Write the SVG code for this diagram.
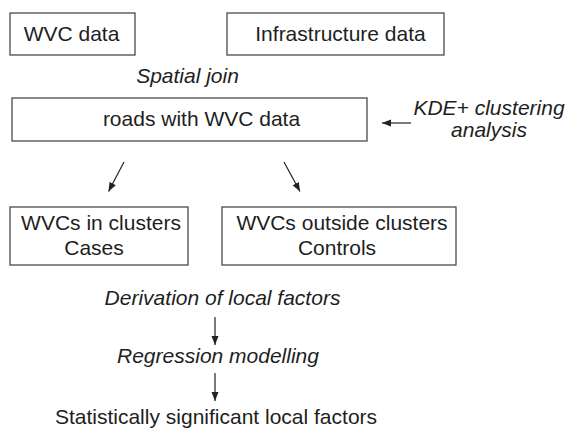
<svg xmlns="http://www.w3.org/2000/svg" width="567" height="430" viewBox="0 0 567 430">
<style>
.box{fill:#fff;stroke:#4a4a4a;stroke-width:1.3}
.t{font-family:"Liberation Sans",Arial,sans-serif;font-size:21px;fill:#1e1e1e;text-anchor:middle}
.i{font-style:italic}
.c{stroke:#222;stroke-width:1.2;fill:none;marker-end:url(#ah)}
</style>
<defs>
<marker id="ah" markerUnits="userSpaceOnUse" markerWidth="10" markerHeight="8" refX="9" refY="3.5" orient="auto">
<path d="M0,0 L9,3.5 L0,7 z" fill="#222"/>
</marker>
</defs>
<rect width="567" height="430" fill="#fff"/>
<g id="wvc-data"><rect class="box" x="10" y="13" width="125" height="42"/><text class="t" x="71.5" y="41">WVC data</text></g>
<g id="infrastructure-data"><rect class="box" x="227" y="13" width="217" height="42"/><text class="t" x="340.5" y="41">Infrastructure data</text></g>
<g id="spatial-join"><text class="t i" x="187.5" y="83">Spatial join</text></g>
<g id="roads"><rect class="box" x="12" y="98" width="355" height="43"/><text class="t" x="201.5" y="126">roads with WVC data</text></g>
<g id="kde"><text class="t i" x="489" y="115">KDE+ clustering</text><text class="t i" x="489" y="137">analysis</text></g>
<g id="cases"><rect class="box" x="10" y="207" width="178" height="58"/><text class="t" x="101" y="230">WVCs in clusters</text><text class="t" x="94" y="255">Cases</text></g>
<g id="controls"><rect class="box" x="222" y="207" width="234" height="58"/><text class="t" x="342" y="230">WVCs outside clusters</text><text class="t" x="337" y="255">Controls</text></g>
<g id="derivation"><text class="t i" x="222.5" y="305">Derivation of local factors</text></g>
<g id="regression"><text class="t i" x="218" y="363">Regression modelling</text></g>
<g id="result"><text class="t" x="216" y="424">Statistically significant local factors</text></g>
<g id="connectors">
<line class="c" x1="411" y1="123" x2="382" y2="123"/>
<line class="c" x1="124" y1="162" x2="108.5" y2="191.5"/>
<line class="c" x1="284" y1="162" x2="300" y2="191.5"/>
<line class="c" x1="215" y1="317" x2="215" y2="345"/>
<line class="c" x1="215" y1="373" x2="215" y2="401"/>
</g>
</svg>
